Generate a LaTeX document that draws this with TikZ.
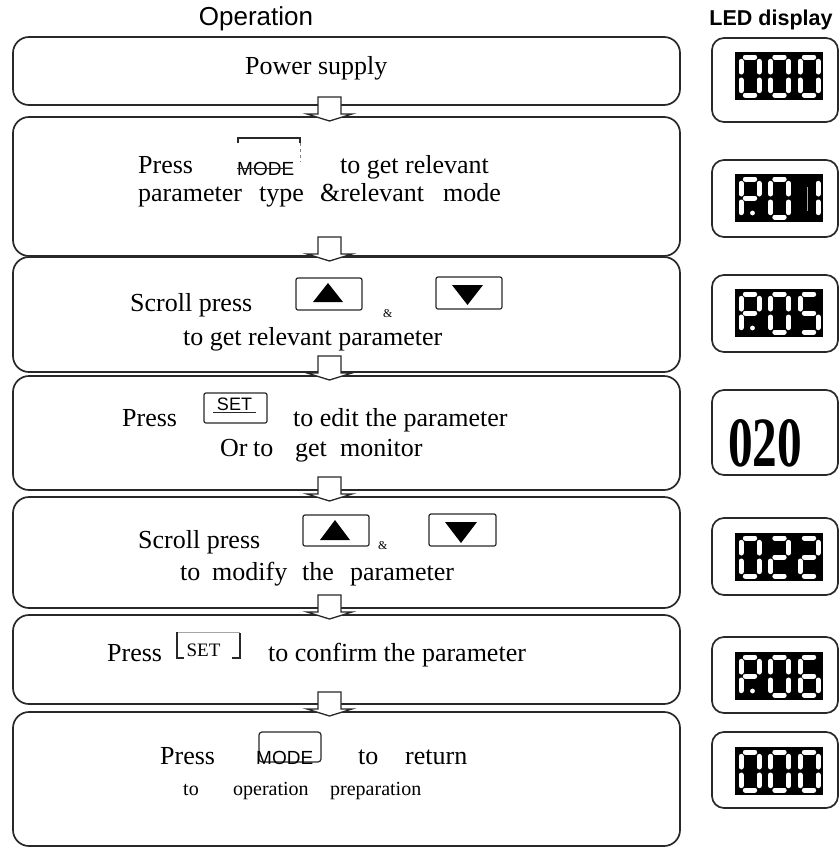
\documentclass[tikz,border=0pt]{standalone}
\usepackage{fontspec}
\usepackage{graphicx}
\setmainfont{Liberation Serif}
\setsansfont{Liberation Sans}
\definecolor{linec}{RGB}{40,40,40}
\newcommand\fsmain{\fontsize{26pt}{30pt}\selectfont}
\newcommand\fssmall{\fontsize{20pt}{24pt}\selectfont}
\newcommand\fsbtn{\sffamily\fontsize{19pt}{22pt}\selectfont}
\newcommand\fsamp{\fontsize{12pt}{14pt}\selectfont}
\def\ledW{18}
\def\ledH{38}
\newcommand\sgA{\draw[seg] (\ledL+4.3,\ledT) -- (\ledL+\ledW-4.3,\ledT);}
\newcommand\sgB{\draw[seg] (\ledL+\ledW,\ledT+4.3) -- (\ledL+\ledW,\ledT+\ledH/2-4);}
\newcommand\sgC{\draw[seg] (\ledL+\ledW,\ledT+\ledH/2+4) -- (\ledL+\ledW,\ledT+\ledH-4.3);}
\newcommand\sgD{\draw[seg] (\ledL+4.3,\ledT+\ledH) -- (\ledL+\ledW-4.3,\ledT+\ledH);}
\newcommand\sgE{\draw[seg] (\ledL,\ledT+\ledH/2+4) -- (\ledL,\ledT+\ledH-4.3);}
\newcommand\sgF{\draw[seg] (\ledL,\ledT+4.3) -- (\ledL,\ledT+\ledH/2-4);}
\newcommand\sgG{\draw[seg] (\ledL+4.3,\ledT+\ledH/2) -- (\ledL+\ledW-4.3,\ledT+\ledH/2);}
\newcommand\sgP{\fill[white] (\ledL+11.5,\ledT+\ledH-4) circle (2.4);}
\newcommand\sgT{\draw[gray!70, line width=0.8pt] (\ledL+7,\ledT+8) -- (\ledL+7,\ledT+\ledH-6);}
\newcommand\ledigit[3]{\def\ledL{#1}\def\ledT{#2}\foreach \s in {#3}{\csname sg\s\endcsname}}
\newcommand\ledrow[4]{\fill[black] (735,#1) rectangle (823,#1+48);
  \ledigit{741}{#1+5}{#2}\ledigit{770.5}{#1+5}{#3}\ledigit{800}{#1+5}{#4}}
\newcommand\blockarrow[1]{\filldraw[fill=white, draw=linec, line width=1.3pt]
  (318,#1-20) -- (341,#1-20) -- (341,#1-3) -- (352,#1-3) -- (329.5,#1+4) -- (307,#1-3) -- (318,#1-3) -- cycle;}
\begin{document}
\begin{tikzpicture}[x=1pt,y=-1pt,
  opbox/.style={draw=linec, line width=1.7pt, rounded corners=16pt, minimum width=667pt, inner sep=0pt},
  ledbox/.style={draw=linec, line width=1.7pt, rounded corners=12pt, minimum width=126pt, inner sep=0pt},
  txt/.style={anchor=base west, inner sep=0pt, font=\fsmain},
  stxt/.style={anchor=base west, inner sep=0pt, font=\fssmall},
  btn/.style={draw=linec, line width=1.2pt, rounded corners=2pt},
  seg/.style={white, line width=5pt, line cap=round}]
\useasboundingbox (0,0) rectangle (840,849);
\fill[white] (0,0) rectangle (840,849);
% headings
\node[anchor=base, inner sep=0pt, font=\sffamily\fontsize{26pt}{30pt}\selectfont] (hop) at (256,25) {Operation};
\node[anchor=base, inner sep=0pt, font=\sffamily\bfseries\fontsize{21.5pt}{25pt}\selectfont] (hled) at (771,25) {LED display};
% operation boxes
\node[opbox, minimum height=68pt] (b1) at (346.5,71) {};
\node[opbox, minimum height=139pt] (b2) at (346.5,186.5) {};
\node[opbox, minimum height=115pt] (b3) at (346.5,314.5) {};
\node[opbox, minimum height=114pt] (b4) at (346.5,433) {};
\node[opbox, minimum height=111pt] (b5) at (346.5,552.5) {};
\node[opbox, minimum height=89pt] (b6) at (346.5,659.5) {};
\node[opbox, minimum height=134pt] (b7) at (346.5,779) {};
% arrows between boxes
\blockarrow{117}
\blockarrow{257}
\blockarrow{376}
\blockarrow{497}
\blockarrow{615}
\blockarrow{712}
% box 1
\node[txt] (t1) at (245,74) {Power supply};
% box 2
\node[txt] (t2a) at (138,173) {Press};
\draw[linec, line width=1.2pt] (238,143) -- (238,138) -- (300,138) -- (300,143);
\draw[gray, dashed, line width=1pt] (300,143) -- (300,162);
\node[anchor=base west, inner sep=0pt, font=\fsbtn] (m1) at (237,175) {MODE};
\draw[linec, line width=1pt] (237,168) -- (292,168);
\node[txt] (t2b) at (340,173) {to get relevant};
\node[txt] (t2c) at (138,201) {parameter};
\node[txt] (t2d) at (259,201) {type};
\node[txt] (t2e) at (320,201) {\&relevant};
\node[txt] (t2f) at (443,201) {mode};
% box 3
\node[txt] (t3a) at (130,311) {Scroll press};
\draw[btn] (296,278) rectangle (362,310);
\fill[black] (313,302) -- (343,302) -- (328,283) -- cycle;
\node[anchor=base west, inner sep=0pt, font=\fsamp] (amp1) at (383,317) {\&};
\draw[btn] (436,277) rectangle (502,309);
\fill[black] (452,285) -- (483,285) -- (467.5,305) -- cycle;
\node[txt] (t3b) at (183,345) {to get relevant parameter};
% box 4
\node[txt] (t4a) at (122,426) {Press};
\draw[btn] (204,393) rectangle (267,423);
\node[anchor=base, inner sep=0pt, font=\sffamily\fontsize{18pt}{21pt}\selectfont] (s1) at (234.5,410) {SET};
\draw[linec, line width=1pt] (213,412.5) -- (256,412.5);
\node[txt] (t4b) at (293,426) {to edit the parameter};
\node[txt] (t4c) at (220,456) {Or};
\node[txt] (t4d) at (253,456) {to};
\node[txt] (t4e) at (295,456) {get};
\node[txt] (t4f) at (340,456) {monitor};
% box 5
\node[txt] (t5a) at (138,548) {Scroll press};
\draw[btn] (303,515) rectangle (369,546);
\fill[black] (320,540) -- (350,540) -- (335,520) -- cycle;
\node[anchor=base west, inner sep=0pt, font=\fsamp] (amp2) at (378,549) {\&};
\draw[btn] (429,514) rectangle (496,546);
\fill[black] (445,522) -- (477,522) -- (461,543) -- cycle;
\node[txt] (t5b) at (180,580) {to};
\node[txt] (t5c) at (212,580) {modify};
\node[txt] (t5d) at (302,580) {the};
\node[txt] (t5e) at (350,580) {parameter};
% box 6
\node[txt] (t6a) at (107,661) {Press};
\draw[gray!70, line width=0.8pt] (177,632) -- (240,632);
\draw[linec, line width=1.2pt] (177,632) -- (177,658) -- (184,658);
\draw[linec, line width=1.2pt] (240,633) -- (240,658) -- (232,658);
\node[anchor=base, inner sep=0pt, font=\fontsize{19pt}{22pt}\selectfont] (s2) at (203.5,656) {SET};
\node[txt] (t6b) at (268,661) {to confirm the parameter};
% box 7
\node[txt] (t7a) at (160,764) {Press};
\draw[btn, rounded corners=3pt] (259,732) rectangle (321,762);
\node[anchor=base west, inner sep=0pt, font=\fsbtn] (m2) at (256,764) {MODE};
\node[txt] (t7b) at (358,764) {to};
\node[txt] (t7c) at (405,764) {return};
\node[stxt] (t7d) at (183,795) {to};
\node[stxt] (t7e) at (233,795) {operation};
\node[stxt] (t7f) at (330,795) {preparation};
% LED boxes
\node[ledbox, minimum height=84pt] (l1) at (775,80) {};
\node[ledbox, minimum height=77pt] (l2) at (775,198.5) {};
\node[ledbox, minimum height=77pt] (l3) at (775,313.5) {};
\node[ledbox, minimum height=85pt] (l4) at (775,432.5) {};
\node[ledbox, minimum height=77pt] (l5) at (775,556.5) {};
\node[ledbox, minimum height=76pt] (l6) at (775,675) {};
\node[ledbox, minimum height=76pt] (l7) at (775,770) {};
\ledrow{52}{A,B,C,D,E,F}{A,B,C,D,E,F}{A,B,C,D,E,F}
\ledrow{174}{A,B,F,G,E,P}{A,B,C,D,E,F}{B,C,T}
\ledrow{289}{A,B,F,G,E,P}{A,B,C,D,E,F}{A,F,G,C,D}
\node[inner sep=0pt] (d020) at (765,443.5) {\resizebox{74pt}{47pt}{\bfseries 020}};
\ledrow{533}{A,B,C,D,E,F}{A,B,G,E,D}{A,B,G,E,D}
\ledrow{652}{A,B,F,G,E,P}{A,B,C,D,E,F}{A,F,G,E,C,D}
\ledrow{747}{A,B,C,D,E,F}{A,B,C,D,E,F}{A,B,C,D,E,F}
\end{tikzpicture}
\end{document}
